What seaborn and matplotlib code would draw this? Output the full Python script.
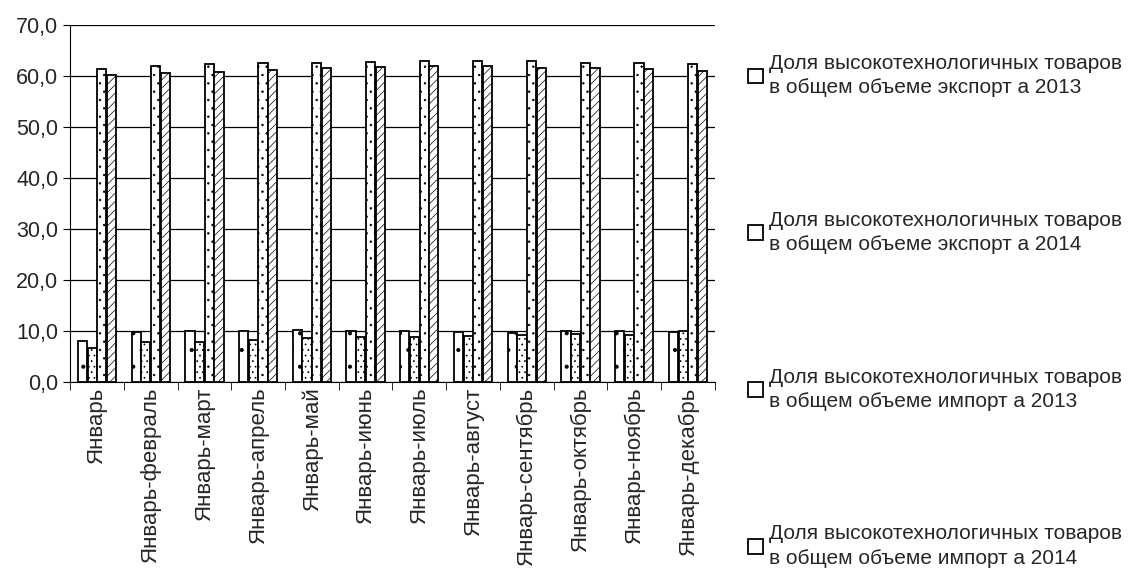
import matplotlib
matplotlib.use("Agg")
import matplotlib.pyplot as plt
import seaborn as sns
import pandas as pd

# периоды
months = ["Январь", "Январь-февраль", "Январь-март", "Январь-апрель", "Январь-май",
          "Январь-июнь", "Январь-июль", "Январь-август", "Январь-сентябрь",
          "Январь-октябрь", "Январь-ноябрь", "Январь-декабрь"]

series_names = ["Доля высокотехнологичных товаров\nв общем объеме экспорт а 2013",
                "Доля высокотехнологичных товаров\nв общем объеме экспорт а 2014",
                "Доля высокотехнологичных товаров\nв общем объеме импорт а 2013",
                "Доля высокотехнологичных товаров\nв общем объеме импорт а 2014"]

export_2013 = [8.0, 9.8, 10.0, 10.0, 10.2, 10.0, 10.0, 9.8, 9.6, 9.9, 9.9, 9.8]
export_2014 = [6.6, 7.8, 7.8, 8.2, 8.5, 8.8, 8.8, 9.0, 9.2, 9.3, 9.2, 9.9]
import_2013 = [61.3, 62.0, 62.3, 62.6, 62.6, 62.7, 63.0, 63.0, 62.9, 62.5, 62.5, 62.3]
import_2014 = [60.2, 60.5, 60.8, 61.2, 61.6, 61.7, 62.0, 62.0, 61.6, 61.5, 61.3, 61.0]

rows = []
for name, vals in zip(series_names, [export_2013, export_2014, import_2013, import_2014]):
    for m, v in zip(months, vals):
        rows.append({"period": m, "series": name, "value": v})
df = pd.DataFrame(rows)

sns.set_style("white")
plt.rcParams["font.family"] = ["Liberation Sans", "DejaVu Sans"]
plt.rcParams["hatch.linewidth"] = 0.5
plt.rcParams["hatch.color"] = "#555555"

fig = plt.figure(figsize=(11.31, 5.69), dpi=100)
ax = fig.add_axes([0.062, 0.329, 0.57, 0.627])

sns.barplot(data=df, x="period", y="value", hue="series", ax=ax,
            palette=["white"] * 4, edgecolor="black", linewidth=1.3,
            width=0.72, gap=0.05, legend=True)

hatches = [".", "...", "..", "////"]
for cont, h in zip(ax.containers, hatches):
    for bar in cont:
        bar.set_hatch(h)

ax.set_ylim(0, 70)
ax.set_yticks(range(0, 71, 10))
ax.set_yticklabels([f"{v},0" for v in range(0, 71, 10)], fontsize=15.5)
ax.yaxis.grid(True, color="black", linewidth=0.9)
ax.set_axisbelow(True)
ax.set_xlim(-0.5, 11.5)
ax.tick_params(axis="x", labelrotation=90, labelsize=16, length=5, color="black")
ax.tick_params(axis="y", length=5, color="black", left=True)
ax.set_xticks([i + 0.5 for i in range(-1, 12)], minor=True)
ax.tick_params(axis="x", which="major", length=0)
ax.tick_params(axis="x", which="minor", length=6, color="black", bottom=True)
ax.set_xlabel("")
ax.set_ylabel("")
for s in ["top", "right"]:
    ax.spines[s].set_visible(False)
for s in ["left", "bottom"]:
    ax.spines[s].set_color("black")

handles, labels = ax.get_legend_handles_labels()
ax.get_legend().remove()
leg = fig.legend(handles, labels, loc="upper left", bbox_to_anchor=(0.645, 0.938),
                 frameon=False, fontsize=15, labelspacing=5.45, handlelength=0.7,
                 handleheight=0.7, handletextpad=0.3)
for t in leg.get_texts():
    t.set_linespacing(1.35)

fig.savefig("out.png", dpi=100)
